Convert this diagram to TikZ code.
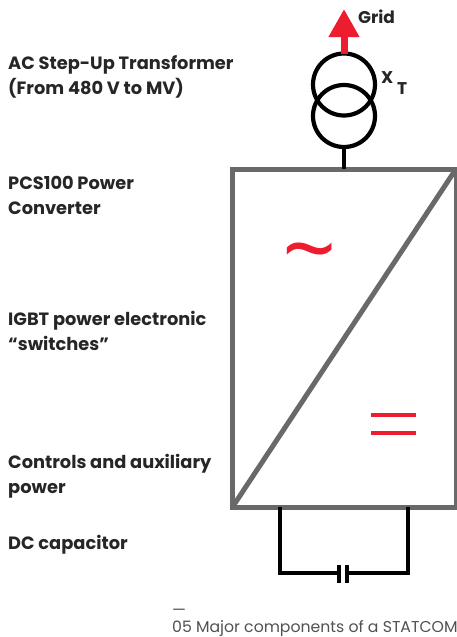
\documentclass[tikz,border=0pt]{standalone}
\usepackage{fontspec}
\setmainfont{Poppins}
\newfontfamily\signfont{Open Sans}
\usetikzlibrary{arrows.meta,positioning}
\definecolor{abbred}{HTML}{ED1C2E}
\definecolor{boxgray}{HTML}{696969}
\definecolor{textgray}{HTML}{262626}

\begin{document}
\begin{tikzpicture}[
	x=1pt,y=-1pt,
	label/.style={
		anchor=west,
		align=left,
		inner sep=0pt,
		text=textgray,
		font=\fontsize{17.8}{25}\selectfont\bfseries
	},
	smalllabel/.style={
		label,
		font=\fontsize{17}{18}\selectfont\bfseries
	},
	caption/.style={
		anchor=west,
		inner sep=0pt,
		text=textgray!80,
		font=\fontsize{15.7}{18}\selectfont
	},
	winding/.style={
		circle,
		draw=black,
		line width=4.2pt,
		minimum size=62pt,
		inner sep=0pt,
		outer sep=0pt
	},
	wire/.style={
		line width=4.4pt,
		draw=black
	},
	plate/.style={
		line width=3.8pt,
		draw=black
	},
	gridarrow/.style={
		-{Triangle[length=28pt,width=29pt]},
		line width=7pt,
		draw=abbred
	},
	equalbar/.style={
		line width=3.8pt,
		draw=abbred
	}
	]
	\useasboundingbox (0,0) rectangle (457,637);
	
	\node[label] (ac) at (8,76.5) {AC Step-Up Transformer\\(From 480 V to MV)};
	\node[label] (pcs) at (8,195) {PCS100 Power\\Converter};
	\node[label] (igbt) at (8,331) {IGBT power electronic\\“switches”};
	\node[label] (ctrl) at (8,476.5) {Controls and auxiliary\\power};
	\node[label] (dccap) at (8,545) {DC capacitor};
	
	\node[winding] (upper) at (344,84.5) {};
	\node[winding] (lower) at (344,116) {};
	\coordinate (gridtip) at (344,9);
	\node[smalllabel] (grid) at (358,17) {Grid};
	\node[smalllabel] (xlabel) at (381,78) {X};
	\node[smalllabel] (tlabel) at (397,89) {T};
	
	\node[draw=boxgray,line width=5pt,minimum width=223.5pt,minimum height=338pt,inner sep=0pt,outer sep=0pt,anchor=north west] (conv) at (232.5,169) {};
	\draw[draw=boxgray,line width=5pt] (conv.south west) -- (conv.north east);
	
	\node[inner sep=0pt,text=abbred,font=\fontsize{95}{95}\signfont] (acsign) at (310,263) {\~{}};
	\coordinate (eqa) at (371,415);
	\coordinate (eqb) at (416,415);
	\coordinate (eqc) at (371,433);
	\coordinate (eqd) at (416,433);
	\draw[equalbar] (eqa) -- (eqb);
	\draw[equalbar] (eqc) -- (eqd);
	
	\draw[gridarrow] (upper.north) -- (gridtip);
	\draw[wire] (lower.south) -- (lower.south |- conv.north);
	
	\coordinate (capl) at (339,573);
	\coordinate (capr) at (347,573);
	\coordinate (leftdrop) at (280,507);
	\coordinate (rightdrop) at (408,507);
	\draw[wire] (leftdrop) |- (capl);
	\draw[wire] (rightdrop) |- (capr);
	\draw[plate] (339,565) -- (capl) -- (339,583);
	\draw[plate] (347,565) -- (capr) -- (347,583);
	
	\node[caption] (dash) at (172,612) {—};
	\node[caption] (capline) at (172,628.5) {05 Major components of a STATCOM};
\end{tikzpicture}
\end{document}
